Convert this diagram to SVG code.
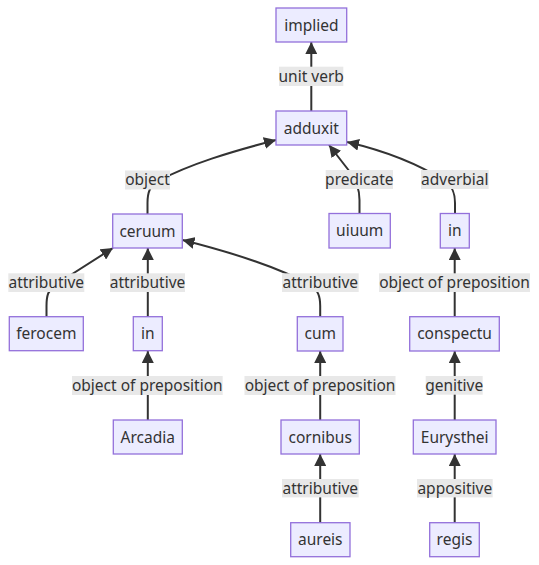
<svg xmlns="http://www.w3.org/2000/svg" width="539" height="565" viewBox="0 0 539 565">
<style>
.node rect{fill:#ECECFF;stroke:#9370DB;stroke-width:1.3}
text{font-family:"Noto Sans","Open Sans",sans-serif;font-size:15.5px;fill:#333;text-anchor:middle}
.edge{fill:none;stroke:#333;stroke-width:2}
.lbl rect{fill:#e8e8e8}
</style>
<defs>
<marker id="arr" viewBox="0 0 10 10" refX="10" refY="5" markerWidth="12" markerHeight="12" markerUnits="userSpaceOnUse" orient="auto">
<path d="M0,0 L10,5 L0,10 z" fill="#333"/>
</marker>
</defs>
<g id="connectors">
<path class="edge" marker-end="url(#arr)" d="M311.3,111 L311.3,42"/>
<path class="edge" marker-end="url(#arr)" d="M147.5,214 L147.5,203 C147.5,192 150,186 158,181 C190,164 230,152 276,140"/>
<path class="edge" marker-end="url(#arr)" d="M359.5,213 L359.5,200 C359.5,188 356,180 350,172 L329,145"/>
<path class="edge" marker-end="url(#arr)" d="M455,213 L455,203 C455,192 452,186 445,181 C420,165 390,152 347,142"/>
<path class="edge" marker-end="url(#arr)" d="M46.5,317 L46.5,306 C46.5,296 48,290 55,285 L113,248"/>
<path class="edge" marker-end="url(#arr)" d="M147.8,317 L147.8,248"/>
<path class="edge" marker-end="url(#arr)" d="M320.2,317 L320.2,306 C320.2,296 318,290 310,285 C280,268 230,252 182.5,240"/>
<path class="edge" marker-end="url(#arr)" d="M147.8,420 L147.8,351"/>
<path class="edge" marker-end="url(#arr)" d="M320.2,420 L320.2,351"/>
<path class="edge" marker-end="url(#arr)" d="M320.2,523 L320.2,454"/>
<path class="edge" marker-end="url(#arr)" d="M454.7,317 L454.7,248"/>
<path class="edge" marker-end="url(#arr)" d="M454.7,420 L454.7,351"/>
<path class="edge" marker-end="url(#arr)" d="M454.7,523 L454.7,454"/>
<g class="lbl">
<rect x="279" y="66.7" width="64.3" height="19.3"/><text x="311.2" y="81.8">unit verb</text>
<rect x="125" y="170.5" width="45" height="19"/><text x="147.5" y="185">object</text>
<rect x="325.7" y="170" width="67.3" height="19"/><text x="359.3" y="184.8">predicate</text>
<rect x="421" y="170" width="67.7" height="19"/><text x="454.8" y="184.8">adverbial</text>
<rect x="8.3" y="273.3" width="76" height="18.7"/><text x="46.3" y="287.9">attributive</text>
<rect x="110" y="273.3" width="75" height="18.7"/><text x="147.5" y="287.9">attributive</text>
<rect x="282" y="273.3" width="76.7" height="18.7"/><text x="320.3" y="287.9">attributive</text>
<rect x="379" y="273.3" width="151" height="18.7"/><text x="454.5" y="287.9">object of preposition</text>
<rect x="72" y="376" width="150.7" height="19"/><text x="147.3" y="390.8">object of preposition</text>
<rect x="244.5" y="376" width="151" height="19"/><text x="320" y="390.8">object of preposition</text>
<rect x="425.7" y="376" width="57" height="18.7"/><text x="454.2" y="390.7">genitive</text>
<rect x="282" y="479" width="76.7" height="18.4"/><text x="320.3" y="493.5">attributive</text>
<rect x="417" y="479" width="75.7" height="18.4"/><text x="454.8" y="493.5">appositive</text>
</g>
</g>
<g id="n-implied" class="node"><rect x="276" y="8" width="70.7" height="34"/><text x="311.3" y="30.5">implied</text></g>
<g id="n-adduxit" class="node"><rect x="276" y="111" width="70.7" height="34"/><text x="311.3" y="133.5">adduxit</text></g>
<g id="n-ceruum" class="node"><rect x="112.7" y="214" width="69.6" height="34"/><text x="147.5" y="236.5">ceruum</text></g>
<g id="n-uiuum" class="node"><rect x="329" y="213.5" width="61.3" height="34.5"/><text x="359.7" y="236.3">uiuum</text></g>
<g id="n-in2" class="node"><rect x="440.3" y="213.5" width="29" height="34.5"/><text x="454.8" y="236.3">in</text></g>
<g id="n-ferocem" class="node"><rect x="9.3" y="316.7" width="74" height="34"/><text x="46.3" y="339.2">ferocem</text></g>
<g id="n-in1" class="node"><rect x="133.3" y="316.7" width="29" height="34"/><text x="147.8" y="339.2">in</text></g>
<g id="n-cum" class="node"><rect x="297.3" y="316.7" width="45.7" height="34.3"/><text x="320.2" y="339.3">cum</text></g>
<g id="n-conspectu" class="node"><rect x="409.7" y="316.7" width="89.6" height="34.3"/><text x="454.5" y="339.3">conspectu</text></g>
<g id="n-arcadia" class="node"><rect x="113.3" y="420" width="69" height="34"/><text x="147.8" y="442.5">Arcadia</text></g>
<g id="n-cornibus" class="node"><rect x="281" y="420" width="78.3" height="34"/><text x="320.2" y="442.5">cornibus</text></g>
<g id="n-eurysthei" class="node"><rect x="413.3" y="420" width="82.7" height="34"/><text x="454.7" y="442.5">Eurysthei</text></g>
<g id="n-aureis" class="node"><rect x="290.7" y="522.7" width="59.3" height="34"/><text x="320.3" y="545.2">aureis</text></g>
<g id="n-regis" class="node"><rect x="429.7" y="522.7" width="49.6" height="34"/><text x="454.5" y="545.2">regis</text></g>
</svg>
